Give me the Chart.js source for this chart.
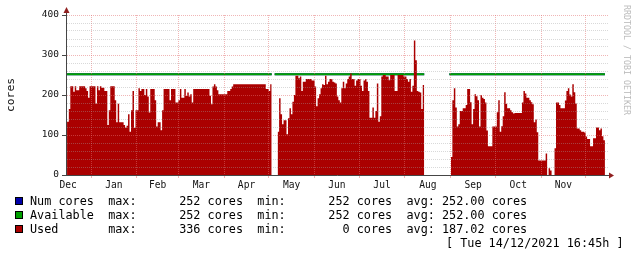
<!DOCTYPE html>
<html>
<head>
<meta charset="utf-8">
<script src="https://cdn.jsdelivr.net/npm/chart.js@4.4.1/dist/chart.umd.min.js"></script>
<style>
  body { margin: 0; background: #fff; }
  #wrap { position: relative; width: 637px; height: 257px; font-family: 'DejaVu Sans Mono', monospace; color: #000; }
  #wrap canvas { position: absolute; left: 0; top: 0; }
  .row { position: absolute; left: 30px; font-size: 11.8px; line-height: 14px; white-space: pre; }
  .sw { position: absolute; left: 15px; width: 6px; height: 6px; border: 1px solid #000; }
  #stamp { position: absolute; left: 446px; top: 236px; font-size: 11.8px; line-height: 14px; white-space: pre; }
  #credit { position: absolute; left: 632px; top: 5px; transform: rotate(90deg); transform-origin: 0 0;
            font-size: 8.3px; line-height: 10px; color: #bbb; white-space: pre; }
</style>
</head>
<body>
<div id="wrap">
  <canvas id="chart" width="637" height="257"></canvas>
  <div id="legend"></div>
  <div id="stamp">[ Tue 14/12/2021 16:45h ]</div>
  <div id="credit">RRDTOOL / TOBI OETIKER</div>
</div>
<script>
// days counted from 1 Jan 2021
const xMin = -16.9;
const xMax = 349.1;
const dataEnd = 347;

const monthNames = ['Dec', 'Jan', 'Feb', 'Mar', 'Apr', 'May', 'Jun', 'Jul', 'Aug', 'Sep', 'Oct', 'Nov', 'Dec'];
const monthStart = [-31, 0, 31, 59, 90, 120, 151, 181, 212, 243, 273, 304, 334, 365];

// each value holds from its day until the next day in the list
const usedDay = [
  -16.2, -15, -14, -12, -11, -10, -8, -4, -3, -2, -1, 3, 4, 5, 6, 7, 9, 11, 12, 13,
  16, 17, 18, 19, 22, 23, 24, 25, 26, 27, 28, 29, 30, 32, 33, 34, 36, 37, 38, 39,
  40, 43, 44, 45, 47, 48, 49, 53, 54, 57, 59, 60, 61, 63, 64, 65, 66, 67, 68, 69,
  80, 81, 82, 83, 84, 85, 86, 92, 94, 95, 96, 118, 120, 121, 122, 126, 127, 128, 129, 130,
  132, 133, 134, 135, 136, 137, 138, 140, 141, 142, 143, 145, 149, 151, 152, 153, 154, 155, 156, 157,
  158, 159, 160, 161, 163, 164, 165, 166, 167, 168, 169, 170, 171, 172, 173, 174, 175, 176, 178, 179,
  180, 182, 183, 184, 185, 186, 187, 188, 190, 191, 192, 193, 194, 195, 196, 197, 199, 201, 202, 205,
  207, 211, 213, 214, 215, 216, 217, 218, 219, 220, 221, 222, 223, 224, 225, 243, 244, 245, 246, 247,
  248, 249, 251, 253, 254, 256, 257, 258, 259, 260, 261, 262, 263, 264, 265, 266, 267, 268, 271, 274,
  275, 276, 277, 278, 279, 280, 281, 283, 284, 285, 286, 291, 292, 293, 294, 296, 297, 298, 299, 300,
  301, 302, 307, 308, 309, 310, 311, 313, 314, 316, 317, 320, 321, 322, 323, 324, 325, 326, 327, 328,
  330, 331, 333, 334, 335, 337, 339, 341, 343, 344, 345, 346
];
const usedCores = [
  133, 165, 222, 208, 222, 212, 222, 217, 210, 193, 222, 179, 222, 212, 222, 218, 210, 125, 162, 222,
  187, 132, 178, 132, 125, 118, 123, 152, 108, 162, 210, 118, 162, 217, 210, 215, 200, 215, 196, 156,
  215, 187, 121, 132, 112, 162, 215, 187, 215, 181, 187, 215, 193, 215, 198, 206, 196, 202, 181, 215,
  198, 177, 221, 227, 221, 212, 202, 210, 215, 221, 227, 215, 210, 227, null, 108, 192, 152, 127, 137,
  102, 142, 167, 152, 183, 200, 248, 242, 246, 210, 233, 240, 236, 221, 172, 192, 202, 217, 227, 225,
  248, 227, 233, 240, 233, 231, 229, 196, 187, 181, 217, 233, 217, 229, 240, 246, 254, 240, 223, 236,
  240, 223, 210, 236, 240, 233, 210, 143, 169, 143, 160, 229, 133, 147, 246, 250, 246, 237, 250, 210,
  250, 246, 240, 233, 240, 208, 223, 336, 287, 210, 208, 206, 165, 225, null, 45, 187, 217, 169, 121,
  127, 160, 167, 175, 215, 182, 127, 165, 202, 197, 187, 121, 200, 193, 190, 181, 111, 72, 121, 157,
  187, 108, 122, 147, 207, 178, 167, 162, 157, 154, 155, 181, 210, 204, 193, 187, 182, 177, 132, 139,
  107, 36, 54, 0, 17, 11, 0, 67, 181, 175, 167, 186, 210, 217, 201, 196, 227, 207, 179, 116,
  112, 108, 106, 96, 90, 72, 92, 119, 112, 116, 97, 87
];

const availDay = [-16.2, 122, 124, 225, 242];
const availCores = [252, null, 252, null, 252];
const numDay = [-16.2, 122, 124, 225, 242];
const numCores = [252, null, 252, null, 252];

const legendNames = ['Num cores', 'Available', 'Used'];
const legendMax = [252, 252, 336];
const legendMin = [252, 252, 0];
const legendAvg = ['252.00', '252.00', '187.02'];

const blue = '#0000aa';
const green = '#00a000';
const red = '#aa0000';
const legendColors = [blue, green, red];
const axisColor = '#454545';
const arrowColor = '#902020';
const majorGrid = 'rgba(225,110,110,0.5)';
const minorGrid = 'rgba(160,160,160,0.4)';
const mono = 'DejaVu Sans Mono';

// legend rows
const legend = document.getElementById('legend');
legendNames.forEach((name, i) => {
  const top = 194 + i * 14;
  const sw = document.createElement('div');
  sw.className = 'sw';
  sw.style.top = (top + 3) + 'px';
  sw.style.background = legendColors[i];
  legend.appendChild(sw);
  const row = document.createElement('div');
  row.className = 'row';
  row.style.top = top + 'px';
  row.textContent = name.padEnd(11) + 'max:' + String(legendMax[i]).padStart(9) + ' cores  min:' +
    String(legendMin[i]).padStart(9) + ' cores  avg: ' + legendAvg[i] + ' cores';
  legend.appendChild(row);
});

function steps(days, vals, end) {
  const pts = [];
  for (let i = 0; i < days.length; i++) {
    if (vals[i] === null) {
      if (i > 0) pts.push({x: days[i], y: vals[i - 1]});
      pts.push({x: days[i], y: null});
    } else {
      pts.push({x: days[i], y: vals[i]});
    }
  }
  pts.push({x: end, y: vals[vals.length - 1]});
  return pts;
}

const gridDays = monthStart.filter(d => d > xMin && d < xMax);
const labelDays = [];
const labelNames = [];
for (let i = 0; i < monthNames.length; i++) {
  const mid = (monthStart[i] + monthStart[i + 1]) / 2;
  if (mid > xMin && mid < xMax) {
    labelDays.push(mid);
    labelNames.push(monthNames[i]);
  }
}

const axisArrows = {
  id: 'axisArrows',
  afterDraw(chart) {
    const {ctx, chartArea: a} = chart;
    const lx = Math.round(a.left) + 0.5;
    const by = Math.round(a.bottom) + 0.5;
    ctx.save();
    ctx.strokeStyle = axisColor;
    ctx.lineWidth = 1;
    ctx.beginPath();
    ctx.moveTo(lx, a.top);
    ctx.lineTo(lx, a.top - 4);
    ctx.moveTo(a.right, by);
    ctx.lineTo(a.right + 3, by);
    ctx.stroke();
    ctx.fillStyle = arrowColor;
    ctx.beginPath();
    ctx.moveTo(lx, a.top - 8);
    ctx.lineTo(lx - 3, a.top - 2);
    ctx.lineTo(lx + 3, a.top - 2);
    ctx.fill();
    ctx.beginPath();
    ctx.moveTo(a.right + 6, by);
    ctx.lineTo(a.right + 1, by - 3);
    ctx.lineTo(a.right + 1, by + 3);
    ctx.fill();
    ctx.restore();
  }
};

new Chart(document.getElementById('chart'), {
  type: 'line',
  data: {
    datasets: [
      {
        label: 'Used',
        data: steps(usedDay, usedCores, dataEnd),
        stepped: true,
        fill: 'origin',
        backgroundColor: red,
        borderColor: red,
        borderWidth: 0,
        pointRadius: 0,
        spanGaps: false
      },
      {
        label: 'Available',
        data: steps(availDay, availCores, dataEnd),
        stepped: true,
        fill: false,
        borderColor: green,
        borderWidth: 2,
        pointRadius: 0,
        spanGaps: false
      },
      {
        label: 'Num cores',
        data: steps(numDay, numCores, dataEnd),
        stepped: true,
        fill: false,
        borderColor: blue,
        borderWidth: 2,
        pointRadius: 0,
        spanGaps: false
      }
    ]
  },
  options: {
    responsive: false,
    animation: false,
    events: [],
    layout: { padding: { left: 0, top: 15, right: 29, bottom: 65 } },
    plugins: { legend: { display: false }, tooltip: { enabled: false } },
    scales: {
      x: {
        type: 'linear',
        position: 'bottom',
        min: xMin,
        max: xMax,
        afterBuildTicks: s => { s.ticks = gridDays.map(v => ({value: v})); },
        afterFit: s => { s.height = 0; },
        ticks: { display: false },
        grid: { z: 1, color: majorGrid, tickColor: majorGrid, tickLength: 3, drawTicks: true },
        border: { display: true, z: 2, color: axisColor, dash: [1, 1] }
      },
      xl: {
        type: 'linear',
        position: 'bottom',
        min: xMin,
        max: xMax,
        afterBuildTicks: s => { s.ticks = labelDays.map(v => ({value: v})); },
        afterFit: s => { s.height = 17; },
        ticks: {
          autoSkip: false,
          maxRotation: 0,
          padding: 5,
          color: '#111',
          font: { family: mono, size: 9.6 },
          callback: (v, i) => labelNames[i]
        },
        grid: { display: false, drawTicks: false },
        border: { display: false }
      },
      y: {
        min: 0,
        max: 400,
        afterFit: s => { s.width = 66; },
        ticks: {
          stepSize: 20,
          autoSkip: false,
          padding: 3,
          color: '#111',
          font: { family: mono, size: 9.5 },
          callback: v => (v % 100 === 0 ? v : '')
        },
        grid: {
          z: 1,
          color: c => (c.tick && c.tick.value % 100 === 0 ? majorGrid : minorGrid),
          tickColor: c => (c.tick && c.tick.value % 100 === 0 ? axisColor : 'rgba(0,0,0,0)'),
          tickLength: 4
        },
        border: { display: true, z: 2, color: axisColor, dash: [1, 1] },
        title: {
          display: true,
          text: 'cores',
          color: '#111',
          font: { family: mono, size: 11.3 },
          padding: { top: 4, bottom: 0 }
        }
      }
    }
  },
  plugins: [axisArrows]
});
</script>
</body>
</html>
